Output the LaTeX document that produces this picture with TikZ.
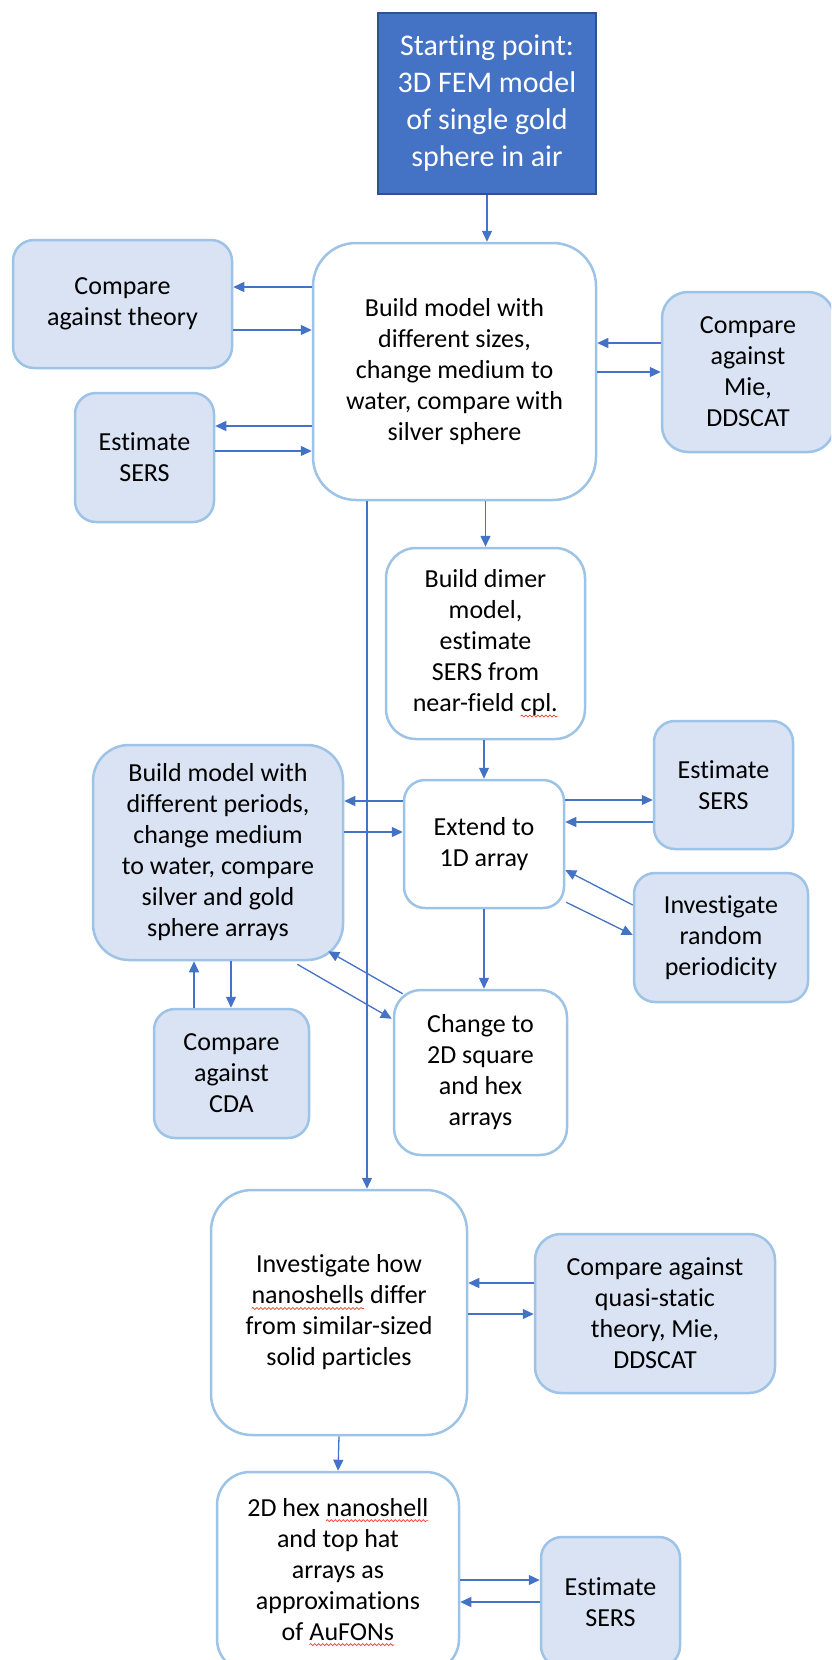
\documentclass[tikz,border=0pt]{standalone}
\usepackage{fontspec}
\setmainfont{Carlito}[Ligatures={NoCommon}, Contextuals={NoAlternate}]
\usetikzlibrary{positioning,arrows.meta,decorations.pathmorphing}
\definecolor{startblue}{HTML}{4472C4}
\definecolor{startedge}{HTML}{2F528F}
\definecolor{paleblue}{HTML}{DAE3F3}
\definecolor{edgeblue}{HTML}{9DC3E6}
\definecolor{arrowblue}{HTML}{4472C4}
\definecolor{spellred}{HTML}{E8432E}
\newcommand{\spellmark}[1]{\tikz[baseline=(w.base)]{\node (w) [draw=none, fill=none, inner sep=0pt, outer sep=0pt, minimum width=0pt, minimum height=0pt, sharp corners, anchor=base] {#1}; \draw [spellred, fill=none, line width=0.7pt, sharp corners, decorate, decoration={snake, amplitude=1pt, segment length=4pt}] ([yshift=-4.5pt]w.base west) -- ([yshift=-4.5pt]w.base east);}}

\begin{document}
\begin{tikzpicture}
[
  x=1pt, y=-1pt,
  every node/.style={font=\fontsize{26}{31}\selectfont, align=center},
  task/.style={rectangle, rounded corners=#1, draw=edgeblue, line width=2.5pt, fill=white},
  check/.style={task=#1, fill=paleblue},
  dims/.style 2 args={minimum width=#1pt, minimum height=#2pt, inner sep=0pt},
  flow/.style={draw=arrowblue, line width=1.3pt, -{Triangle[length=11pt, width=10pt]}}
]
\useasboundingbox (0,0) rectangle (831,1660);
\clip (0,0) rectangle (831,1660);

\node (start) [draw=startedge, fill=startblue, line width=2pt, text=white, dims={218}{181}, font=\fontsize{30}{37}\selectfont] at (487,103.5) {Starting point:\\3D FEM model\\of single gold\\sphere in air};
\node (sizes) [task=43pt, dims={283}{257}] at (454.5,371.5) {Build model with\\different sizes,\\change medium to\\water, compare with\\silver sphere};
\node (theory) [check=21pt, dims={219}{128}] at (122.5,304) {Compare\\against theory};
\node (sersA) [check=21pt, dims={139}{129}] at (144.5,457.5) {Estimate\\SERS};
\node (mie) [check=26pt, dims={172}{160}] at (748,372) {Compare\\against\\Mie,\\DDSCAT};
\node (dimer) [task=30pt, dims={199}{191}] at (485.5,643.5) {Build dimer\\model,\\estimate\\SERS from\\near-field \spellmark{cpl.}};
\node (extend) [task=21pt, dims={160}{128}] at (484,844) {Extend to\\1D array};
\node (periods) [check=36pt, dims={250}{215}] at (218,852.5) {Build model with\\different periods,\\change medium\\to water, compare\\silver and gold\\sphere arrays};
\node (sersB) [check=21pt, dims={139}{128}] at (723.5,785) {Estimate\\SERS};
\node (random) [check=21pt, dims={174}{129}] at (721,937.5) {Investigate\\random\\periodicity};
\node (change) [task=27pt, dims={173}{165}] at (480.5,1072.5) {Change to\\2D square\\and hex\\arrays};
\node (cda) [check=21pt, dims={155}{129}] at (231.5,1073.5) {Compare\\against\\CDA};
\node (shells) [task=41pt, dims={256}{245}] at (339,1312.5) {Investigate how\\\spellmark{nanoshells} differ\\from similar-sized\\solid particles};
\node (quasi) [check=26pt, dims={240}{159}] at (655,1313.5) {Compare against\\quasi-static\\theory, Mie,\\DDSCAT};
\node (hex) [task=33pt, dims={242}{200}] at (338,1572) {2D hex \spellmark{nanoshell}\\and top hat\\arrays as\\approximations\\of \spellmark{AuFONs}};
\node (sersC) [check=21pt, dims={139}{130}] at (610.5,1602) {Estimate\\SERS};

\draw [flow] (start.south) -- (start.south |- sizes.north);
\draw [flow] (dimer.north |- sizes.south) -- (dimer.north);
\draw [flow] (extend.north |- dimer.south) -- (extend.north);
\draw [flow] (extend.south) -- (extend.south |- change.north);
\draw [flow] (sizes.south -| 367,0) -- (shells.north -| 367,0);
\draw [flow] (shells.south) -- (hex.north);
\draw [flow] (cda.north -| 194,0) -- (periods.south -| 194,0);
\draw [flow] (periods.south -| 231,0) -- (cda.north -| 231,0);

\foreach \from/\to/\y in {sizes.west/theory.east/287, theory.east/sizes.west/330,
    sizes.west/sersA.east/426, sersA.east/sizes.west/451,
    mie.west/sizes.east/343, sizes.east/mie.west/372,
    extend.west/periods.east/801, periods.east/extend.west/832,
    extend.east/sersB.west/800, sersB.west/extend.east/822,
    quasi.west/shells.east/1283, shells.east/quasi.west/1314,
    hex.east/sersC.west/1580, sersC.west/hex.east/1602}
  \draw [flow] (\from |- 0,\y) -- (\to |- 0,\y);

\draw [flow] (random.west |- 0,905) -- (extend.east |- 0,870);
\draw [flow] ([shift={(1,-7)}]extend.south east) -- (random.west |- 0,935);
\draw [flow] ([shift={(10,5)}]change.north west) -- ([shift={(-16,-10)}]periods.south east);
\draw [flow] ([shift={(-47,3)}]periods.south east) -- ([shift={(-1,30)}]change.north west);
\end{tikzpicture}
\end{document}
